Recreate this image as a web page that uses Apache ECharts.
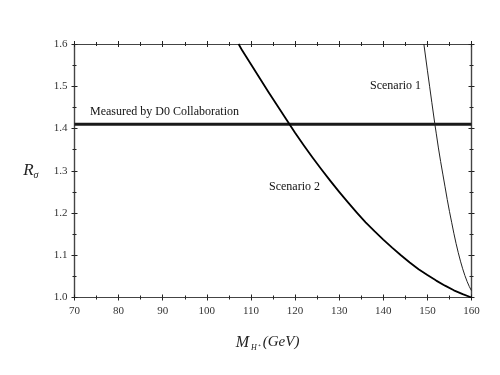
<!DOCTYPE html>
<html>
<head>
<meta charset="utf-8">
<script src="https://cdn.jsdelivr.net/npm/echarts@6/dist/echarts.min.js"></script>
<style>
  html, body { margin: 0; padding: 0; background: #fff; }
  #chart { width: 500px; height: 375px; }
</style>
</head>
<body>
<div id="chart"></div>
<script>
// values
const scenario1 = [
  [149.2, 1.600], [150, 1.538], [150.5, 1.500], [151, 1.462], [151.7, 1.410],
  [152, 1.389], [152.5, 1.354], [153, 1.322], [153.5, 1.292], [154, 1.262],
  [154.5, 1.232], [155, 1.204], [155.5, 1.178], [156, 1.152], [156.5, 1.128],
  [157, 1.106], [157.5, 1.086], [158, 1.068], [158.5, 1.052], [159, 1.038],
  [159.5, 1.026], [160, 1.016],
];
const scenario2 = [
  [107.2, 1.600], [108, 1.585], [110, 1.552], [112, 1.519], [114, 1.486],
  [116, 1.454], [118, 1.422], [120, 1.390], [122, 1.360], [124, 1.331],
  [126, 1.303], [128, 1.276], [130, 1.250], [132, 1.225], [134, 1.201],
  [136, 1.178], [138, 1.157], [140, 1.137], [142, 1.118], [144, 1.100],
  [146, 1.083], [148, 1.067], [150, 1.053], [152, 1.040], [154, 1.028],
  [156, 1.017], [158, 1.008], [160, 1.000],
];
const measured = [[70, 1.41], [160, 1.41]];
const xRange = [70, 160];
const yRange = [1.0, 1.6];

const serif = "Liberation Serif";
const ink = "#222";

const chart = echarts.init(document.getElementById("chart"), null, { renderer: "canvas" });

// each side gets two axes: one with outward ticks, one with inward ticks -> crossing ticks
const tickAxisX = (position, inside, labels) => ({
  type: "value",
  position,
  min: xRange[0],
  max: xRange[1],
  interval: 10,
  axisLine: { show: true, lineStyle: { color: "#444", width: 1.2 } },
  axisTick: { show: true, inside, length: 3, lineStyle: { color: ink } },
  minorTick: { show: true, splitNumber: 2, length: 2, lineStyle: { color: ink } },
  splitLine: { show: false },
  axisLabel: labels
    ? { show: true, color: "#333", fontFamily: serif, fontSize: 11, margin: 8 }
    : { show: false },
});
const tickAxisY = (position, inside, labels) => ({
  type: "value",
  position,
  min: yRange[0],
  max: yRange[1],
  interval: 0.1,
  axisLine: { show: true, lineStyle: { color: "#444", width: 1.2 } },
  axisTick: { show: true, inside, length: 3, lineStyle: { color: ink } },
  minorTick: { show: true, splitNumber: 2, length: 2, lineStyle: { color: ink } },
  splitLine: { show: false },
  axisLabel: labels
    ? { show: true, color: "#333", fontFamily: serif, fontSize: 11, margin: 7,
        formatter: (v) => v.toFixed(1) }
    : { show: false },
});

const xMain = tickAxisX("bottom", false, true);
xMain.name = "{m|M}{h|H⁺}{g|(GeV)}";
xMain.nameLocation = "middle";
xMain.nameGap = 36;
xMain.nameTextStyle = {
  padding: [0, 11, 0, 0],
  rich: {
    m: { fontFamily: serif, fontStyle: "italic", fontSize: 16, color: ink },
    h: { fontFamily: serif, fontStyle: "italic", fontSize: 8, color: ink, padding: [10, 3, 0, 2] },
    g: { fontFamily: serif, fontStyle: "italic", fontSize: 15, color: ink },
  },
};

const yMain = tickAxisY("left", false, true);
yMain.name = "{r|R}{s|σ}";
yMain.nameLocation = "middle";
yMain.nameRotate = 0;
yMain.nameGap = 36;
yMain.nameTextStyle = {
  rich: {
    r: { fontFamily: serif, fontStyle: "italic", fontSize: 17, color: ink },
    s: { fontFamily: serif, fontStyle: "italic", fontSize: 10, color: ink, padding: [10, 0, 0, 0] },
  },
};

const option = {
  backgroundColor: "#fff",
  animation: false,
  grid: { left: 74.5, right: 28.5, top: 44, bottom: 77.5 },
  xAxis: [
    xMain,
    tickAxisX("bottom", true, false),
    tickAxisX("top", true, false),
    tickAxisX("top", false, false),
  ],
  yAxis: [
    yMain,
    tickAxisY("left", true, false),
    tickAxisY("right", true, false),
    tickAxisY("right", false, false),
  ],
  series: [
    {
      name: "Measured by D0 Collaboration",
      type: "line",
      data: measured,
      showSymbol: false,
      lineStyle: { color: "#1a1a1a", width: 3 },
    },
    {
      name: "Scenario 2",
      type: "line",
      data: scenario2,
      showSymbol: false,
      lineStyle: { color: "#000", width: 1.8, join: "round" },
    },
    {
      name: "Scenario 1",
      type: "line",
      data: scenario1,
      showSymbol: false,
      lineStyle: { color: "#222", width: 1, join: "round" },
    },
  ],
  graphic: [
    { type: "text", x: 90, y: 112,
      style: { text: "Measured by D0 Collaboration", font: `12px "${serif}"`, fill: "#111", verticalAlign: "middle" } },
    { type: "text", x: 370, y: 86,
      style: { text: "Scenario 1", font: `12px "${serif}"`, fill: "#111", verticalAlign: "middle" } },
    { type: "text", x: 269, y: 187,
      style: { text: "Scenario 2", font: `12px "${serif}"`, fill: "#111", verticalAlign: "middle" } },
  ],
};
chart.setOption(option);
</script>
</body>
</html>
